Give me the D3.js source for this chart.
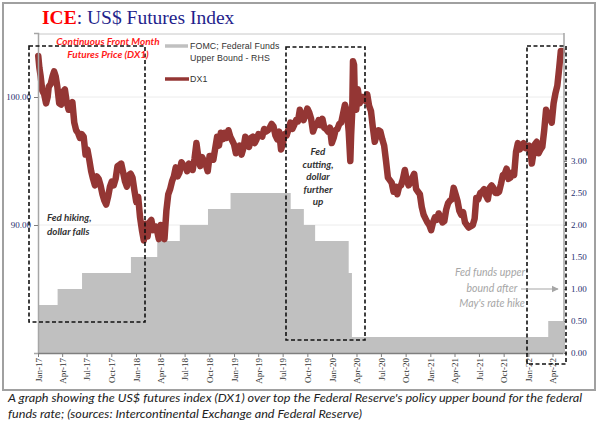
<!DOCTYPE html>
<html>
<head>
<meta charset="utf-8" />
<title>ICE: US$ Futures Index</title>
<script src="https://d3js.org/d3.v7.min.js"></script>
<style>
body { margin: 0; background: #fff; }
svg { display: block; }
.axis text { font-family: "Liberation Serif", "DejaVu Serif", serif; font-size: 9px; fill: #1f2f6f; }
.axis .domain { stroke: #a6a6a6; stroke-width: 1.5px; }
.axis .tick line { stroke: #7f7f7f; }
.xaxis text { fill: #333; }
.xaxis .domain { stroke: #7f7f7f; }
</style>
</head>
<body>
<div id="chart"></div>
<script>
/* DX1 continuous front month futures */
var dxDates = [
  "2017-01-02","2017-01-06","2017-01-11","2017-01-17","2017-01-24","2017-01-31","2017-02-06","2017-02-10","2017-02-17","2017-02-24",
  "2017-03-02","2017-03-08","2017-03-14","2017-03-21","2017-03-28","2017-04-04","2017-04-11","2017-04-18","2017-04-25","2017-05-02",
  "2017-05-09","2017-05-16","2017-05-23","2017-05-30","2017-06-06","2017-06-13","2017-06-20","2017-06-27","2017-07-04","2017-07-11",
  "2017-07-18","2017-07-25","2017-08-01","2017-08-08","2017-08-15","2017-08-22","2017-08-29","2017-09-05","2017-09-12","2017-09-19",
  "2017-09-26","2017-10-03","2017-10-10","2017-10-17","2017-10-24","2017-10-31","2017-11-07","2017-11-14","2017-11-21","2017-11-28",
  "2017-12-05","2017-12-12","2017-12-19","2017-12-26","2018-01-02","2018-01-09","2018-01-16","2018-01-23","2018-01-30","2018-02-06",
  "2018-02-13","2018-02-20","2018-02-27","2018-03-06","2018-03-13","2018-03-20","2018-03-27","2018-04-03","2018-04-10","2018-04-17",
  "2018-04-24","2018-05-01","2018-05-08","2018-05-15","2018-05-22","2018-05-29","2018-06-05","2018-06-12","2018-06-19","2018-06-26",
  "2018-07-03","2018-07-10","2018-07-17","2018-07-24","2018-07-31","2018-08-07","2018-08-14","2018-08-21","2018-08-28","2018-09-04",
  "2018-09-11","2018-09-18","2018-09-25","2018-10-02","2018-10-09","2018-10-16","2018-10-23","2018-10-30","2018-11-06","2018-11-13",
  "2018-11-20","2018-11-27","2018-12-04","2018-12-11","2018-12-18","2018-12-25","2019-01-01","2019-01-08","2019-01-15","2019-01-22",
  "2019-01-29","2019-02-05","2019-02-12","2019-02-19","2019-02-26","2019-03-05","2019-03-12","2019-03-19","2019-03-26","2019-04-02",
  "2019-04-09","2019-04-16","2019-04-23","2019-04-30","2019-05-07","2019-05-14","2019-05-21","2019-05-28","2019-06-04","2019-06-11",
  "2019-06-18","2019-06-25","2019-07-02","2019-07-09","2019-07-16","2019-07-23","2019-07-30","2019-08-06","2019-08-13","2019-08-20",
  "2019-08-27","2019-09-03","2019-09-10","2019-09-17","2019-09-24","2019-10-01","2019-10-08","2019-10-15","2019-10-22","2019-10-29",
  "2019-11-05","2019-11-12","2019-11-19","2019-11-26","2019-12-03","2019-12-10","2019-12-17","2019-12-24","2019-12-31","2020-01-07",
  "2020-01-14","2020-01-21","2020-01-28","2020-02-04","2020-02-11","2020-02-18","2020-02-25","2020-03-03","2020-03-09","2020-03-12",
  "2020-03-16","2020-03-19","2020-03-23","2020-03-26","2020-03-31","2020-04-06","2020-04-13","2020-04-20","2020-04-27","2020-05-04",
  "2020-05-11","2020-05-18","2020-05-25","2020-06-01","2020-06-08","2020-06-15","2020-06-22","2020-06-29","2020-07-06","2020-07-13",
  "2020-07-20","2020-07-27","2020-08-03","2020-08-10","2020-08-17","2020-08-24","2020-08-31","2020-09-07","2020-09-14","2020-09-21",
  "2020-09-28","2020-10-05","2020-10-12","2020-10-19","2020-10-26","2020-11-02","2020-11-09","2020-11-16","2020-11-23","2020-11-30",
  "2020-12-07","2020-12-14","2020-12-21","2020-12-28","2021-01-04","2021-01-11","2021-01-18","2021-01-25","2021-02-01","2021-02-08",
  "2021-02-15","2021-02-22","2021-03-01","2021-03-08","2021-03-15","2021-03-22","2021-03-29","2021-04-05","2021-04-12","2021-04-19",
  "2021-04-26","2021-05-03","2021-05-10","2021-05-17","2021-05-24","2021-06-01","2021-06-08","2021-06-15","2021-06-21","2021-06-28",
  "2021-07-06","2021-07-13","2021-07-20","2021-07-27","2021-08-03","2021-08-10","2021-08-17","2021-08-24","2021-08-31","2021-09-07",
  "2021-09-14","2021-09-21","2021-09-28","2021-10-05","2021-10-12","2021-10-19","2021-10-26","2021-11-02","2021-11-09","2021-11-16",
  "2021-11-23","2021-11-30","2021-12-07","2021-12-14","2021-12-21","2021-12-28","2022-01-04","2022-01-11","2022-01-14","2022-01-25",
  "2022-02-01","2022-02-08","2022-02-15","2022-02-22","2022-03-01","2022-03-08","2022-03-15","2022-03-22","2022-03-29","2022-04-05",
  "2022-04-12","2022-04-19","2022-04-26","2022-05-02","2022-05-06"
];
var dxValues = [
  103.2,102.3,101.6,100.5,100.2,99.5,100.0,100.8,101.0,101.6,
  102.0,101.6,100.8,99.5,99.4,100.4,100.6,99.6,99.0,99.3,
  99.6,98.0,97.4,97.2,96.8,97.1,96.9,95.5,95.9,95.1,
  94.2,93.6,93.1,93.8,93.6,93.1,92.4,91.9,91.6,92.2,
  93.0,93.4,93.1,93.6,94.6,94.7,94.8,94.1,93.4,93.0,
  93.9,94.0,93.7,92.7,91.8,92.2,90.6,89.6,88.8,90.1,
  89.1,90.2,90.4,89.6,89.9,89.6,88.9,90.0,89.5,88.9,
  91.1,92.4,92.8,93.4,93.8,94.5,93.8,94.1,94.9,94.7,
  94.6,94.2,94.8,94.6,94.3,95.2,96.4,95.3,94.6,95.3,
  95.0,94.7,94.2,95.4,95.4,95.1,96.0,96.9,96.2,97.2,
  96.7,97.2,96.8,97.4,96.9,96.6,96.3,95.6,95.8,96.2,
  95.5,96.0,96.9,96.5,96.1,96.8,96.9,96.4,96.7,97.1,
  97.0,96.9,97.5,97.3,97.4,97.6,97.9,97.7,97.0,96.7,
  97.3,95.9,96.4,97.1,97.0,97.5,98.0,97.5,97.8,98.2,
  98.1,99.0,98.4,98.2,98.6,99.1,98.8,98.3,97.3,97.7,
  97.8,98.2,97.8,98.3,97.6,97.5,97.3,97.6,96.4,96.8,
  97.4,97.5,97.9,98.0,98.7,99.4,98.9,97.3,95.0,97.0,
  98.8,102.8,102.5,99.8,99.0,100.6,99.5,100.0,100.0,99.7,
  100.2,99.3,98.9,97.6,96.5,97.0,97.4,97.3,96.7,96.2,
  95.0,93.7,93.5,93.3,92.6,93.0,92.4,93.0,93.1,93.6,
  94.3,93.5,93.1,93.3,93.7,94.0,92.8,92.6,92.4,91.4,
  90.8,90.5,90.2,90.0,89.6,90.2,90.6,90.4,90.9,90.6,
  90.2,90.3,91.2,91.7,91.9,92.0,92.9,92.4,91.9,91.1,
  90.8,91.0,90.2,90.0,89.8,89.9,90.0,90.5,92.1,92.0,
  92.5,92.6,92.8,92.3,92.0,92.9,93.1,92.9,92.5,92.5,
  92.6,93.2,93.9,94.0,94.4,93.6,93.7,94.1,93.9,95.7,
  96.4,95.9,96.2,96.4,96.0,96.0,96.2,95.4,94.8,96.3,
  96.5,95.6,95.9,96.1,97.4,99.0,98.6,98.4,98.0,99.5,
  100.3,100.9,102.3,103.6,103.6
];

/* FOMC federal funds target, upper bound (RHS), step dates */
var fomcDates = ["2017-01-01","2017-03-15","2017-06-14","2017-12-13","2018-03-21","2018-06-13","2018-09-26","2018-12-19",
                 "2019-07-31","2019-09-18","2019-10-30","2020-03-03","2020-03-15","2022-03-16","2022-05-10"];
var fomcRates = [0.75,1.00,1.25,1.50,1.75,2.00,2.25,2.50,2.25,2.00,1.75,1.25,0.25,0.50,0.50];

var leftTicks = [90, 100];
var rightTicks = [0, 0.5, 1, 1.5, 2, 2.5, 3];

var width = 600, height = 426;
var pL = 38, pR = 563, pT = 33, pB = 353;

var parse = d3.timeParse("%Y-%m-%d");
var dx = dxDates.map(function(d, i) { return { date: parse(d), value: dxValues[i] }; });
var fomc = fomcDates.map(function(d, i) { return { date: parse(d), value: fomcRates[i] }; });

var x = d3.scaleTime().domain([parse("2017-01-01"), parse("2022-05-10")]).range([pL, pR]);
var yL = d3.scaleLinear().domain([80, 105]).range([pB, pT]);
var yR = d3.scaleLinear().domain([0, 5]).range([pB, pT]);

var svg = d3.select("#chart").append("svg").attr("width", width).attr("height", height);

// outer frame
svg.append("rect").attr("x", 3).attr("y", 3).attr("width", 592).attr("height", 387)
   .attr("fill", "none").attr("stroke", "#a0a0a0").attr("stroke-width", 2);

// title
var title = svg.append("text").attr("x", 42).attr("y", 24)
   .style("font-family", "'Liberation Serif', 'DejaVu Serif', serif").style("font-size", "19.5px");
title.append("tspan").text("ICE").attr("fill", "#ff0000").style("font-weight", "bold");
title.append("tspan").text(": US$ Futures Index").attr("fill", "#1f1f8c");

// plot area top border
svg.append("line").attr("x1", pL).attr("x2", pR + 1).attr("y1", pT + 1).attr("y2", pT + 1)
   .attr("stroke", "#c8c8c8").attr("stroke-width", 1);

// gridlines
svg.append("g").selectAll("line").data(leftTicks).enter().append("line")
   .attr("x1", pL).attr("x2", pR).attr("y1", function(d) { return yL(d); }).attr("y2", function(d) { return yL(d); })
   .attr("stroke", "#ececec");

// fed funds area (step)
var area = d3.area().curve(d3.curveStepAfter)
   .x(function(d) { return x(d.date); }).y0(yR(0)).y1(function(d) { return yR(d.value); });
svg.append("path").datum(fomc).attr("d", area).attr("fill", "#c0c0c0");

// DX1 line
var line = d3.line().x(function(d) { return x(d.date); }).y(function(d) { return yL(d.value); });
svg.append("path").datum(dx).attr("d", line).attr("fill", "none")
   .attr("stroke", "#943634").attr("stroke-width", 6.5).attr("stroke-linejoin", "round").attr("stroke-linecap", "round");

// axes
svg.append("g").attr("class", "axis").attr("transform", "translate(" + pL + ",0)")
   .call(d3.axisLeft(yL).tickValues(leftTicks).tickFormat(d3.format(".2f")).tickSize(4).tickPadding(3));
svg.append("g").attr("class", "axis").attr("transform", "translate(" + (pR + 1) + ",0)")
   .call(d3.axisRight(yR).tickValues(rightTicks).tickFormat(d3.format(".2f")).tickSize(3).tickPadding(4))
   .select(".domain").attr("d", "M0," + pT + "V" + pB);

var xTicks = d3.timeMonth.every(3).range(parse("2017-01-01"), parse("2022-04-02"));
var xAxis = svg.append("g").attr("class", "axis xaxis").attr("transform", "translate(0," + pB + ")")
   .call(d3.axisBottom(x).tickValues(xTicks).tickFormat(d3.timeFormat("%b-%y")).tickSize(4).tickSizeOuter(0));
xAxis.selectAll(".tick text").attr("transform", "rotate(-90)").attr("text-anchor", "end")
   .attr("x", -5).attr("y", 0).attr("dy", "0.35em");

// dashed boxes
var boxes = [[29, 46, 145, 322], [286, 47, 365, 340], [527, 46, 566, 364]];
svg.append("g").selectAll("rect").data(boxes).enter().append("rect")
   .attr("x", function(d) { return d[0]; }).attr("y", function(d) { return d[1]; })
   .attr("width", function(d) { return d[2] - d[0]; }).attr("height", function(d) { return d[3] - d[1]; })
   .attr("fill", "none").attr("stroke", "#111").attr("stroke-width", 1.6).attr("stroke-dasharray", "4,2.5");

// red series label
var red = svg.append("g").style("font-family", "Lato, 'Open Sans', sans-serif").style("font-size", "10px")
   .style("font-style", "italic").style("font-weight", "bold").attr("fill", "#ff1a1a").attr("text-anchor", "middle");
red.append("text").attr("x", 108).attr("y", 45).text("Continuous  Front Month");
red.append("text").attr("x", 108).attr("y", 58).text("Futures Price (DX1)");

// legend
var lg = svg.append("g").style("font-family", "'Liberation Sans', Arial, sans-serif").style("font-size", "8.8px")
   .style("letter-spacing", "0.1px").attr("fill", "#333");
lg.append("line").attr("x1", 165).attr("x2", 188).attr("y1", 46).attr("y2", 46).attr("stroke", "#c0c0c0").attr("stroke-width", 3.5);
lg.append("text").attr("x", 190).attr("y", 49).text("FOMC; Federal Funds");
lg.append("text").attr("x", 190).attr("y", 61).text("Upper Bound - RHS");
lg.append("line").attr("x1", 165).attr("x2", 189).attr("y1", 79).attr("y2", 79).attr("stroke", "#943634").attr("stroke-width", 3.5);
lg.append("text").attr("x", 190).attr("y", 82).text("DX1");

// annotations
var ann = svg.append("g").style("font-family", "Lato, 'Open Sans', sans-serif").style("font-size", "9.8px")
   .style("font-style", "italic").style("font-weight", "bold").attr("fill", "#333");
ann.append("text").attr("x", 47).attr("y", 221).text("Fed hiking,");
ann.append("text").attr("x", 47).attr("y", 235).text("dollar falls");
["Fed", "cutting,", "dollar", "further", "up"].forEach(function(t, i) {
  ann.append("text").attr("x", 318).attr("y", 155 + i * 12.5).attr("text-anchor", "middle").text(t);
});

var gr = svg.append("g").style("font-family", "Lato, 'Open Sans', sans-serif").style("font-size", "10.5px")
   .style("font-style", "italic").attr("fill", "#a6a6a6").attr("text-anchor", "middle");
gr.append("text").attr("x", 490).attr("y", 276).text("Fed funds upper");
gr.append("text").attr("x", 492).attr("y", 292).text("bound after");
gr.append("text").attr("x", 492).attr("y", 307).text("May's rate hike");
svg.append("defs").append("marker").attr("id", "arr").attr("viewBox", "0 0 10 10").attr("refX", 9).attr("refY", 5)
   .attr("markerWidth", 6).attr("markerHeight", 6).attr("orient", "auto")
   .append("path").attr("d", "M0,0L10,5L0,10Z").attr("fill", "#a6a6a6");
svg.append("line").attr("x1", 521).attr("x2", 558).attr("y1", yR(1)).attr("y2", yR(1))
   .attr("stroke", "#a6a6a6").attr("stroke-width", 1.2).attr("marker-end", "url(#arr)");

// caption
var cap = svg.append("g").style("font-family", "Lato, 'Open Sans', sans-serif").style("font-size", "11px")
   .style("font-style", "italic").attr("fill", "#222");
cap.append("text").attr("x", 8).attr("y", 402).attr("textLength", 574).attr("lengthAdjust", "spacingAndGlyphs")
   .text("A graph showing the US$ futures index (DX1) over top the Federal Reserve's policy upper bound for the federal");
cap.append("text").attr("x", 8).attr("y", 418).attr("textLength", 354).attr("lengthAdjust", "spacingAndGlyphs")
   .text("funds rate; (sources: Intercontinental Exchange and Federal Reserve)");
</script>
</body>
</html>
